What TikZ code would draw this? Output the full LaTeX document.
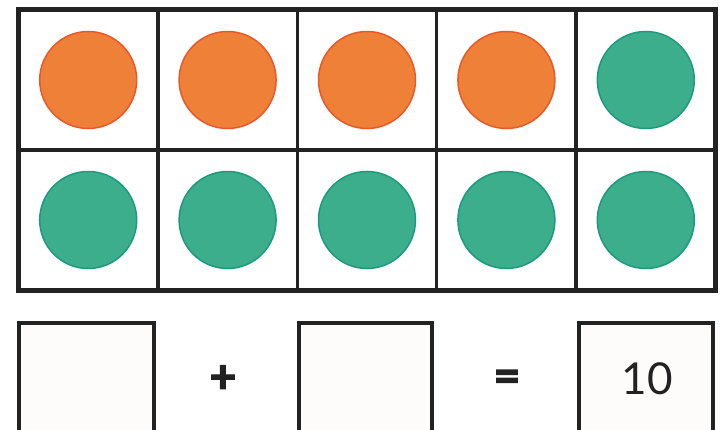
\documentclass[tikz,border=0pt]{standalone}
\usepackage{fontspec}
\setmainfont{Lato}[BoldFeatures={FakeBold=3}]
\definecolor{orfill}{HTML}{EF8038}
\definecolor{ordraw}{HTML}{E8582A}
\definecolor{grfill}{HTML}{3DAE8C}
\definecolor{grdraw}{HTML}{1C9A80}
\definecolor{frame}{HTML}{222222}
\definecolor{boxfill}{HTML}{FDFCFA}
\tikzset{
  orangedot/.style={circle, minimum size=97pt, inner sep=0pt, fill=orfill, draw=ordraw, line width=1.5pt},
  greendot/.style={circle, minimum size=97pt, inner sep=0pt, fill=grfill, draw=grdraw, line width=1.5pt},
  answerbox/.style={draw=frame, fill=boxfill, line width=4pt},
  symb/.style={font=\fontsize{46}{46}\selectfont\bfseries, text=frame},
}
\begin{document}
\begin{tikzpicture}[x=1pt,y=-1pt]
\useasboundingbox (0,0) rectangle (725,430);
\clip (0,0) rectangle (725,430);
% inner grid lines
\foreach \i in {1,2,3,4} {
  \draw[frame, line width=3.3pt] ({18.5+139.4*\i},10) -- ({18.5+139.4*\i},290);
}
\draw[frame, line width=3.3pt] (18.5,150) -- (715.5,150);
\draw[frame, line width=5pt] (18.5,10) rectangle (715.5,290);
% dots
\foreach \i/\s in {0/orangedot,1/orangedot,2/orangedot,3/orangedot,4/greendot} {
  \node[\s] (t\i) at ({18.5+139.4*(\i+0.5)},80) {};
}
\foreach \i in {0,...,4} {
  \node[greendot] (b\i) at ({18.5+139.4*(\i+0.5)},220) {};
}
% number sentence
\draw[answerbox] (19,323) rectangle (154,440);
\draw[answerbox] (299,323) rectangle (432,440);
\draw[answerbox] (579,323) rectangle (713,440);
\node[symb] (plus) at (223,379) {+};
\node[symb] (eq) at (507,381) {=};
\node[font=\fontsize{44}{44}\selectfont, text=frame] (ten) at (647,379) {10};
\end{tikzpicture}
\end{document}
